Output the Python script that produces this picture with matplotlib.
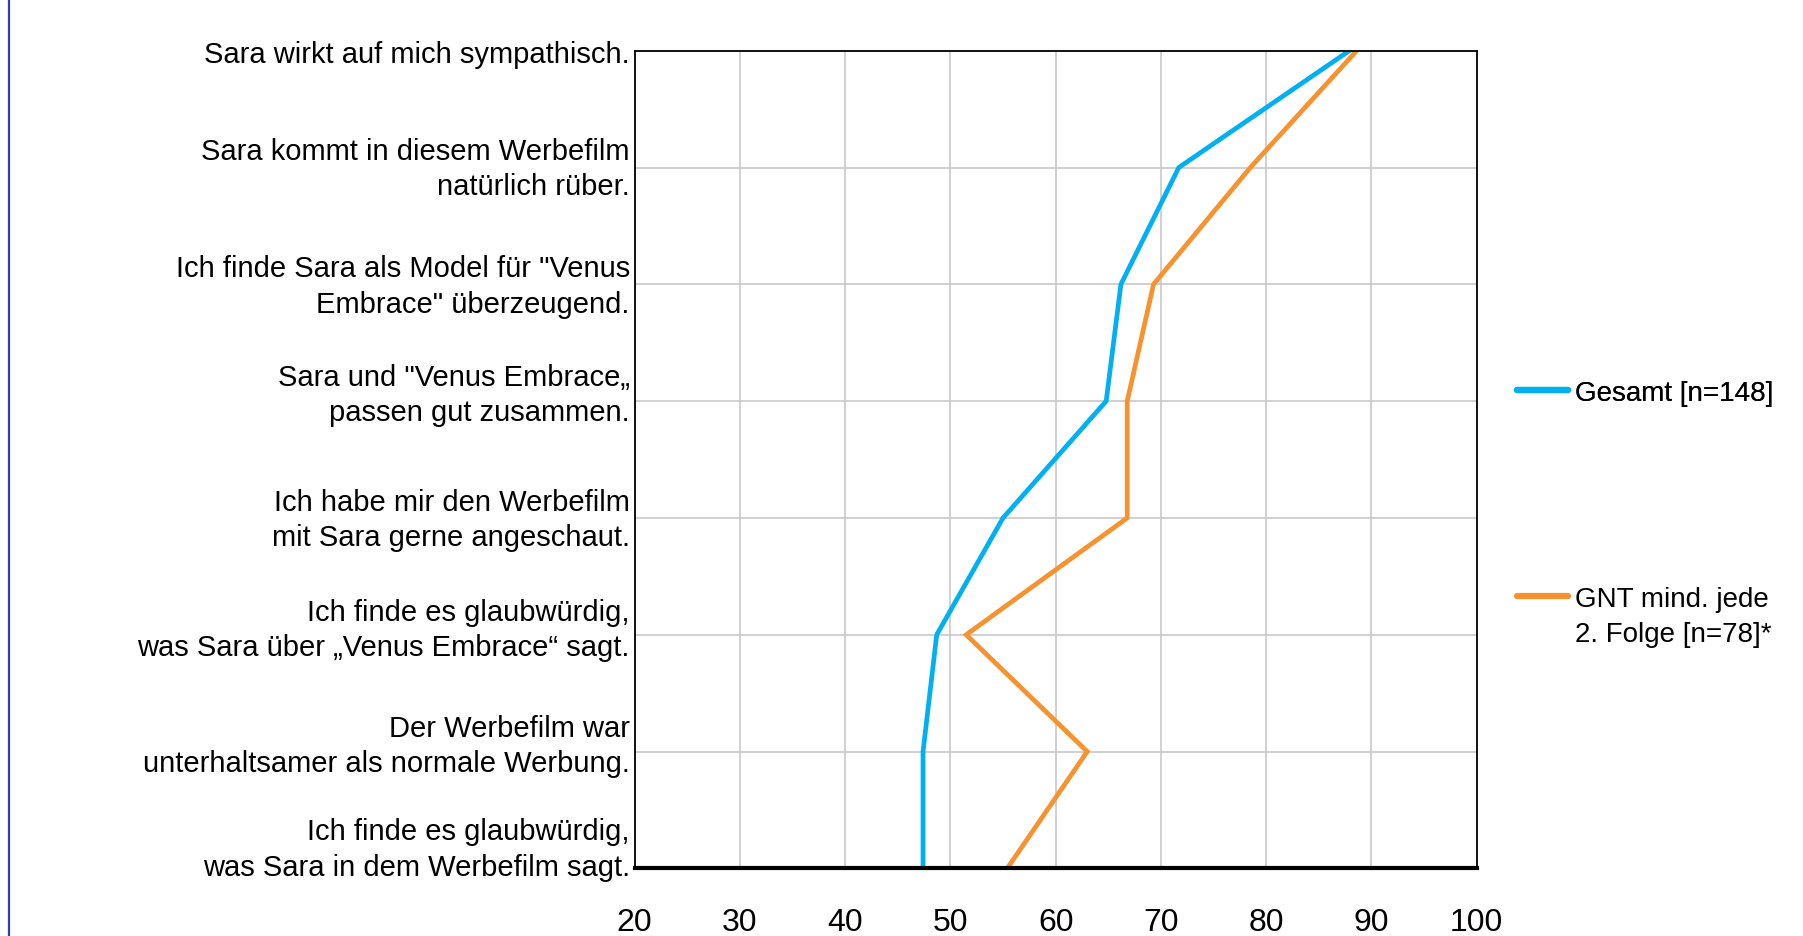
import matplotlib.pyplot as plt
from matplotlib.lines import Line2D
from matplotlib.transforms import ScaledTranslation

plt.rcParams['font.family'] = ['Liberation Sans', 'DejaVu Sans']

# Statements (top to bottom) and mean values
statements = [
    'Sara wirkt auf mich sympathisch.',
    'Sara kommt in diesem Werbefilm\nnatürlich rüber.',
    'Ich finde Sara als Model für "Venus\nEmbrace" überzeugend.',
    'Sara und "Venus Embrace„\npassen gut zusammen.',
    'Ich habe mir den Werbefilm\nmit Sara gerne angeschaut.',
    'Ich finde es glaubwürdig,\nwas Sara über „Venus Embrace“ sagt.',
    'Der Werbefilm war\nunterhaltsamer als normale Werbung.',
    'Ich finde es glaubwürdig,\nwas Sara in dem Werbefilm sagt.',
]
gesamt = [87.9, 71.7, 66.2, 64.8, 55.0, 48.7, 47.4, 47.4]
gnt = [88.6, 78.5, 69.3, 66.8, 66.8, 51.5, 63.0, 55.4]
x_ticks = [20, 30, 40, 50, 60, 70, 80, 90, 100]

label_gesamt = 'Gesamt [n=148]'
label_gnt = 'GNT mind. jede\n2. Folge [n=78]*'

blue = '#00b0f0'
orange = '#f7922f'

fig = plt.figure(figsize=(18.03, 9.37), dpi=100)
ax = fig.add_axes([0.352, 0.0722, 0.467, 0.8726])

ypos = list(range(len(statements)))
l1, = ax.plot(gesamt, ypos, color=blue, linewidth=3.4, solid_joinstyle='miter')
l2, = ax.plot(gnt, ypos, color=orange, linewidth=3.4, solid_joinstyle='miter')

ax.set_xlim(20, 100)
ax.set_ylim(len(statements) - 1, 0)
ax.set_xticks(x_ticks)
ax.set_yticks(ypos)
ax.set_yticklabels(statements, fontsize=21, linespacing=1.33)
ax.tick_params(axis='x', length=0, pad=28, labelsize=23)
ax.tick_params(axis='y', length=0, pad=3.5)

ax.grid(True, color='#c8c8c8', linewidth=1.2)
ax.set_axisbelow(True)
for side in ['left', 'right', 'top']:
    ax.spines[side].set_linewidth(1.3)
ax.spines['bottom'].set_linewidth(3)

# wrapped labels do not sit exactly centred on their gridline (pixels upward)
label_lift = [0, 6, 5, 13, 5, 12, 13, 26]
for lab, dy in zip(ax.get_yticklabels(), label_lift):
    lab.set_transform(lab.get_transform() + ScaledTranslation(0, dy / 100, fig.dpi_scale_trans))

leg1 = fig.legend([l1], [label_gesamt], loc='center left', bbox_to_anchor=(0.8335, 0.58),
                  frameon=False, fontsize=20, handlelength=1.85, handletextpad=0.25, borderpad=0)
leg2 = fig.legend([l2], [label_gnt], loc='upper left', bbox_to_anchor=(0.8335, 0.388),
                  frameon=False, fontsize=20, handlelength=1.85, handletextpad=0.25, borderpad=0)
fig.add_artist(leg1)
for lg in (leg1, leg2):
    for h in lg.legend_handles:
        h.set_linewidth(4.5)
        h.set_solid_capstyle('round')
for t in leg2.get_texts():
    t.set_linespacing(1.45)
# align the handle with the first text line of the two-line entry
for col in leg2._legend_handle_box.get_children():
    for item in col.get_children():
        item.align = 'top'

# blue frame line at the left edge
fig.add_artist(Line2D([0.005, 0.005], [0, 1], transform=fig.transFigure, color='#2a3fb8', linewidth=1.6))

fig.savefig('out.png', dpi=100)
